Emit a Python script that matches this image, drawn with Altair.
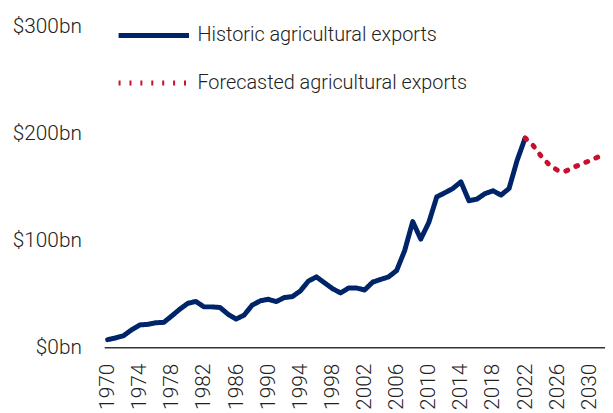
import altair as alt
import pandas as pd

hist_years = list(range(1970, 2023))
hist_values = [7.2, 8.8, 11, 16.5, 21, 21.5, 23, 23.4, 29.5, 35.8,
               41.3, 42.9, 37.9, 37.9, 37.3, 31, 26.5, 30.2, 39.5, 43.5,
               45, 42.9, 46.6, 47.5, 52.8, 62, 66, 60.5, 55, 51,
               55.5, 55.5, 53.7, 61, 63.6, 66, 72, 90.7, 117.8, 101.4,
               116.9, 141, 144.7, 148.8, 155, 137.3, 138.8, 144, 146.6, 142.6,
               148.8, 175, 196]
fc_years = list(range(2022, 2033))
fc_values = [196, 189, 179, 171, 166, 164.8, 168.5, 171.6, 174.7, 178, 181]

series_names = ["Historic agricultural exports", "Forecasted agricultural exports"]
series_colors = ["#002469", "#c8102e"]
series_dash = [[1, 0], [2, 9]]
x_ticks = list(range(1970, 2031, 4))
y_ticks = [0, 100, 200, 300]

df = pd.concat([
    pd.DataFrame({"year": hist_years, "value": hist_values, "series": series_names[0]}),
    pd.DataFrame({"year": fc_years, "value": fc_values, "series": series_names[1]}),
])

FONT = "Roboto"
FW = 300
TXT = "#222222"


def legend():
    return alt.Legend(title=None, orient="none", legendX=12, legendY=-29.5,
                      symbolType="stroke", symbolSize=5041, symbolStrokeWidth=5,
                      rowPadding=-54, labelOffset=6, labelFontSize=20,
                      labelFontWeight=FW, labelColor=TXT, labelFont=FONT, labelLimit=400)


chart = alt.Chart(df).mark_line(strokeWidth=5, strokeCap="round", strokeJoin="round").encode(
    x=alt.X("year:Q",
            scale=alt.Scale(domain=[1969.57, 2031.95], nice=False, zero=False),
            axis=alt.Axis(values=x_ticks, format="d", labelAngle=270, labelAlign="right",
                          labelBaseline="middle", labelPadding=16, ticks=False, grid=False,
                          domainColor="#333333", domainWidth=1.5, labelFontSize=21,
                          labelFontWeight=FW, labelColor=TXT, labelFont=FONT, title=None,
                          labelOverlap=False)),
    y=alt.Y("value:Q",
            scale=alt.Scale(domain=[0, 300], nice=False),
            axis=alt.Axis(values=y_ticks, labelExpr="'$' + datum.value + 'bn'",
                          ticks=False, grid=False, domain=False, labelPadding=23,
                          labelFontSize=21, labelFontWeight=FW, labelColor=TXT,
                          labelFont=FONT, title=None)),
    color=alt.Color("series:N", scale=alt.Scale(domain=series_names, range=series_colors),
                    legend=legend()),
    strokeDash=alt.StrokeDash("series:N",
                              scale=alt.Scale(domain=series_names, range=series_dash),
                              legend=legend()),
).properties(
    width=505, height=323,
    autosize=alt.AutoSizeParams(type="none"),
    padding={"left": 97, "top": 17.5, "right": 0, "bottom": 60},
).configure_view(stroke=None)

chart.save("out.html", embed_options={"renderer": "svg", "actions": False})
